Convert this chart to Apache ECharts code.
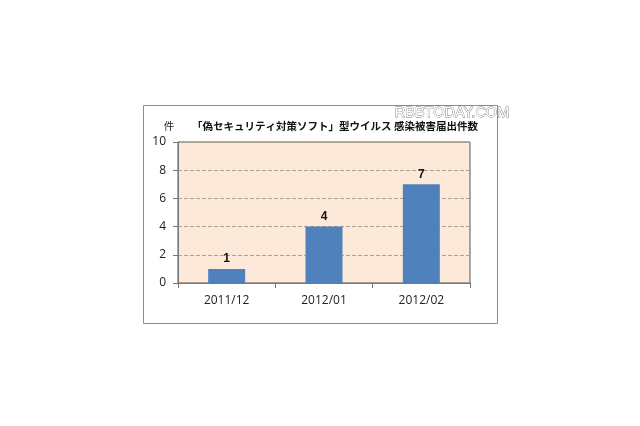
<!DOCTYPE html>
<html><head><meta charset="utf-8">
<script src="https://cdn.jsdelivr.net/npm/echarts@6/dist/echarts.min.js"></script>
<style>html,body{margin:0;padding:0;background:#fff;}#c{width:640px;height:426px;}</style>
</head><body><div id="c"></div>
<script>
const categories = ['2011/12', '2012/01', '2012/02'];
const values = [1, 4, 7];
const yTicks = [0, 2, 4, 6, 8, 10];
const titleText = '「偽セキュリティ対策ソフト」型ウイルス 感染被害届出件数';
const unitText = '件';
const watermark = 'RBBTODAY.COM';

const chart = echarts.init(document.getElementById('c'), null, {renderer: 'canvas'});
const font = '"Noto Sans CJK JP", sans-serif';
chart.setOption({
  animation: false,
  backgroundColor: '#fff',
  graphic: [
    {type: 'rect', shape: {x: 143.5, y: 105.5, width: 354, height: 218}, style: {fill: 'none', stroke: '#8c8c8c', lineWidth: 1}, z: 0},
    {type: 'text', style: {x: 335, y: 126, text: titleText, font: 'bold 10.5px ' + font, fill: '#111', textAlign: 'center', textVerticalAlign: 'middle'}},
    {type: 'text', style: {x: 169, y: 126, text: unitText, font: '10.5px ' + font, fill: '#222', textAlign: 'center', textVerticalAlign: 'middle'}},
    {type: 'text', style: {x: 452, y: 113, text: watermark, font: '14.5px "Liberation Sans", sans-serif', fill: '#fff', stroke: '#777', lineWidth: 0.8, textAlign: 'center', textVerticalAlign: 'middle'}, z: 10}
  ],
  grid: {left: 178, top: 142, width: 292, height: 141, show: true, backgroundColor: '#fde9d9', borderColor: '#555', borderWidth: 1},
  xAxis: {
    type: 'category', data: categories,
    axisLine: {lineStyle: {color: '#777'}},
    axisTick: {show: true, lineStyle: {color: '#777'}},
    axisLabel: {color: '#222', fontSize: 12, margin: 12, fontFamily: '"Open Sans", sans-serif'}
  },
  yAxis: {
    type: 'value', min: 0, max: 10, interval: 2,
    axisLine: {show: true, lineStyle: {color: '#777'}},
    axisTick: {show: true, length: 5, lineStyle: {color: '#777'}},
    axisLabel: {color: '#222', fontSize: 12, margin: 12, fontFamily: '"Open Sans", sans-serif'},
    splitLine: {show: true, lineStyle: {color: '#b0a090', type: 'dashed', width: 1}}
  },
  series: [{
    type: 'bar', data: values, barWidth: 37,
    itemStyle: {color: '#4f81bd'},
    label: {show: true, position: 'top', color: '#111', fontWeight: 'bold', fontSize: 12, distance: 4}
  }]
});
</script></body></html>
